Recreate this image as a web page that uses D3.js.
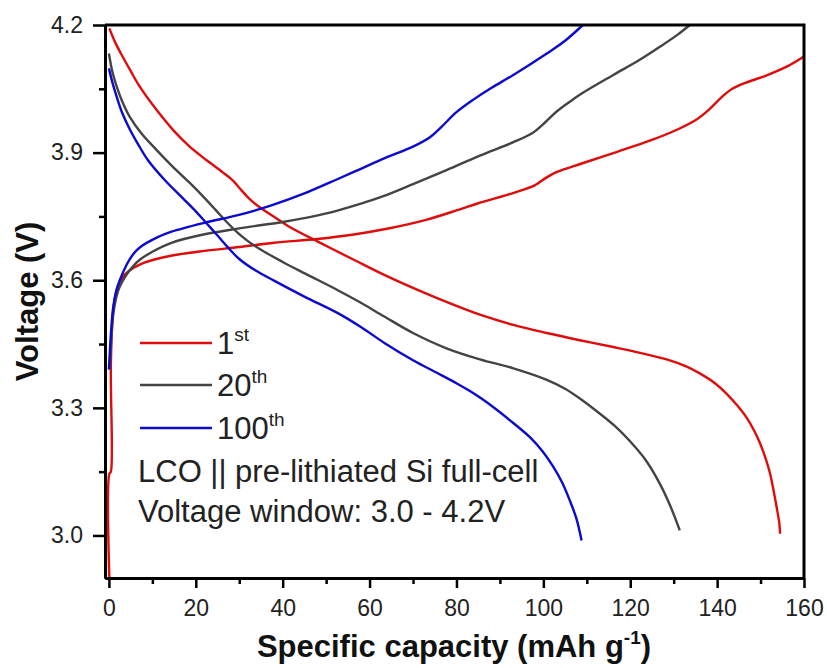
<!DOCTYPE html>
<html>
<head>
<meta charset="utf-8">
<script src="https://cdn.jsdelivr.net/npm/d3@7"></script>
<style>
  body { margin: 0; background: #fff; }
  svg { display: block; font-family: "Liberation Sans", Arial, sans-serif; }
</style>
</head>
<body>
<svg id="chart"></svg>
<script>
// capacity (mAh/g), voltage (V)
var charge1st = [[0.1,2.9],[0.1,3.145],[0.45,3.15],[0.45,3.40],[1.0,3.53],[2.0,3.585],[3.5,3.612],[5.5,3.628],[8,3.641],[14,3.657],[22,3.669],[30,3.678],[38,3.688],[48,3.697],[56,3.707],[64,3.721],[73,3.742],[80,3.764],[85,3.781],[93,3.805],[98,3.823],[100.5,3.840],[103,3.854],[109,3.875],[117,3.902],[124.5,3.928],[131,3.955],[135,3.976],[138,4.000],[141,4.030],[143.5,4.050],[146.5,4.064],[151,4.080],[156,4.102],[160,4.126]];
var discharge1st = [[0.1,4.192],[1.5,4.158],[3.3,4.123],[5,4.092],[7.1,4.055],[11,4.0],[14.8,3.953],[18.6,3.914],[22.5,3.882],[26.3,3.853],[28.5,3.835],[30.2,3.815],[32,3.795],[34,3.777],[38.6,3.745],[41.3,3.727],[49,3.686],[56.6,3.647],[63.5,3.612],[70,3.582],[77.7,3.549],[85.4,3.519],[93.1,3.495],[100.8,3.476],[108.4,3.459],[116.1,3.443],[122,3.430],[128.4,3.414],[133,3.397],[136,3.381],[139.5,3.358],[142.2,3.333],[144.7,3.305],[146.8,3.277],[148.6,3.245],[149.9,3.216],[151.2,3.18],[152.2,3.145],[153.1,3.10],[153.7,3.067],[154.3,3.03],[154.5,3.004]];

var charge20th = [[0.2,3.39],[0.6,3.47],[1.0,3.52],[1.7,3.56],[2.5,3.585],[4.1,3.614],[5.5,3.632],[7.1,3.648],[10,3.667],[14.4,3.688],[22,3.708],[30,3.722],[40,3.737],[47,3.750],[53,3.765],[58,3.780],[63,3.797],[70,3.826],[77.7,3.859],[85.4,3.893],[93,3.924],[97.5,3.946],[100.5,3.972],[103,3.996],[106,4.019],[109,4.040],[116,4.082],[122,4.117],[127,4.150],[131,4.178],[133.7,4.2]];
var discharge20th = [[0,4.133],[0.8,4.09],[1.8,4.055],[3,4.022],[4.8,3.984],[7.5,3.945],[11,3.906],[14.5,3.869],[18.5,3.830],[21.5,3.799],[24.5,3.766],[27,3.738],[29.8,3.710],[32,3.692],[35.1,3.671],[40,3.643],[45.1,3.616],[52.8,3.576],[58,3.547],[63.5,3.514],[70,3.476],[77.7,3.440],[85.4,3.414],[93.1,3.393],[100.8,3.366],[105,3.345],[108.4,3.322],[112.3,3.292],[116.5,3.257],[119.9,3.222],[123.5,3.178],[126.8,3.122],[129.2,3.07],[131.4,3.012]];

var charge100th = [[0,3.39],[0.5,3.48],[1.0,3.537],[1.7,3.575],[2.5,3.60],[4.1,3.637],[5.5,3.660],[7.1,3.677],[11,3.700],[14.4,3.714],[22,3.735],[29.7,3.753],[37.4,3.776],[45,3.804],[52.7,3.838],[58,3.862],[63.5,3.887],[70,3.914],[73.9,3.936],[76.5,3.960],[80,3.995],[83.8,4.024],[88,4.052],[93,4.082],[100.8,4.133],[105,4.163],[109.1,4.2]];
var discharge100th = [[0,4.098],[0.8,4.065],[1.8,4.031],[3,3.995],[4.8,3.955],[6.7,3.920],[9,3.882],[12.9,3.835],[17.1,3.792],[20,3.762],[22.1,3.738],[25,3.705],[27.5,3.676],[30,3.650],[33.6,3.624],[38,3.599],[45.1,3.561],[52.8,3.522],[58,3.49],[63.5,3.452],[70,3.412],[75,3.385],[80,3.358],[83,3.340],[86,3.320],[89.2,3.296],[93,3.265],[96.9,3.231],[99.8,3.198],[102.3,3.161],[104.3,3.125],[106.1,3.082],[107.6,3.04],[108.8,2.988]];

var cycleNames = ["1", "20", "100"];
var cycleSups = ["st", "th", "th"];
var cycleColors = ["#e00b0b", "#444444", "#0a0ad0"];
var xTicks = [0, 20, 40, 60, 80, 100, 120, 140, 160];
var xMinorTicks = [10, 30, 50, 70, 90, 110, 130, 150];
var yTicks = [3.0, 3.3, 3.6, 3.9, 4.2];
var yMinorTicks = [3.15, 3.45, 3.75, 4.05];
var noteLines = ["LCO || pre-lithiated Si full-cell", "Voltage window: 3.0 - 4.2V"];

var series = [
  { curves: [charge1st, discharge1st], color: cycleColors[0] },
  { curves: [charge20th, discharge20th], color: cycleColors[1] },
  { curves: [charge100th, discharge100th], color: cycleColors[2] }
];

var W = 827, H = 668;
var plot = { left: 105, right: 804, top: 25, bottom: 578 };

var svg = d3.select("#chart").attr("width", W).attr("height", H);
svg.append("rect").attr("width", W).attr("height", H).attr("fill", "#fff");

var x = d3.scaleLinear().domain([-0.9, 160]).range([plot.left, plot.right]);
var y = d3.scaleLinear().domain([2.9, 4.2]).range([plot.bottom, plot.top]);

var line = d3.line()
  .x(function(d){ return x(d[0]); })
  .y(function(d){ return y(d[1]); })
  .curve(d3.curveCatmullRom.alpha(0.5));

// curves
series.forEach(function(s){
  s.curves.forEach(function(c){
    svg.append("path")
      .datum(c)
      .attr("d", line)
      .attr("fill", "none")
      .attr("stroke", s.color)
      .attr("stroke-width", 2.4)
      .attr("stroke-linejoin", "round");
  });
});

// axes
function styleAxis(g){
  g.select(".domain").attr("stroke", "#000").attr("stroke-width", 3);
  g.selectAll(".tick line").attr("stroke", "#000").attr("stroke-width", 2.5);
  g.selectAll(".tick text").attr("fill", "#222").style("font-size", "23px");
}

svg.append("g")
  .attr("transform", "translate(0," + plot.bottom + ")")
  .call(d3.axisBottom(x).tickValues(xMinorTicks).tickFormat("").tickSize(6).tickSizeOuter(0))
  .call(styleAxis);
svg.append("g")
  .attr("transform", "translate(0," + plot.bottom + ")")
  .call(d3.axisBottom(x).tickValues(xTicks).tickFormat(d3.format("d")).tickSize(10).tickPadding(12).tickSizeOuter(0))
  .call(styleAxis);

svg.append("g")
  .attr("transform", "translate(" + plot.left + ",0)")
  .call(d3.axisLeft(y).tickValues(yMinorTicks).tickFormat("").tickSize(6).tickSizeOuter(0))
  .call(styleAxis);
svg.append("g")
  .attr("transform", "translate(" + plot.left + ",0)")
  .call(d3.axisLeft(y).tickValues(yTicks).tickFormat(d3.format(".1f")).tickSize(12).tickPadding(10).tickSizeOuter(0))
  .call(styleAxis);

// frame top / right
svg.append("path")
  .attr("d", "M" + plot.left + "," + plot.top + "H" + plot.right + "V" + plot.bottom)
  .attr("fill", "none")
  .attr("stroke", "#000")
  .attr("stroke-width", 3);

// axis titles
var xt = svg.append("text")
  .attr("x", 454)
  .attr("y", 657)
  .attr("text-anchor", "middle")
  .style("font-size", "31px")
  .style("font-weight", "bold")
  .attr("fill", "#111");
xt.append("tspan").text("Specific capacity (mAh g");
xt.append("tspan").attr("dy", -13).style("font-size", "19px").text("-1");
xt.append("tspan").attr("dy", 13).text(")");

svg.append("text")
  .attr("transform", "translate(38," + (plot.top + plot.bottom) / 2 + ") rotate(-90)")
  .attr("text-anchor", "middle")
  .style("font-size", "31px")
  .style("font-weight", "bold")
  .attr("fill", "#111")
  .text("Voltage (V)");

// legend
var legendY = [343, 385, 428];
cycleNames.forEach(function(name, i){
  svg.append("line")
    .attr("x1", 140).attr("x2", 212)
    .attr("y1", legendY[i]).attr("y2", legendY[i])
    .attr("stroke", cycleColors[i])
    .attr("stroke-width", 2.4);
  var t = svg.append("text")
    .attr("x", 217)
    .attr("y", legendY[i] + 11)
    .style("font-size", "31px")
    .attr("fill", "#222");
  t.append("tspan").text(name);
  t.append("tspan").attr("dy", -13).style("font-size", "19px").text(cycleSups[i]);
});

noteLines.forEach(function(s, i){
  svg.append("text")
    .attr("x", 138)
    .attr("y", 482 + i * 40)
    .style("font-size", "31px")
    .attr("fill", "#222")
    .text(s);
});
</script>
</body>
</html>
